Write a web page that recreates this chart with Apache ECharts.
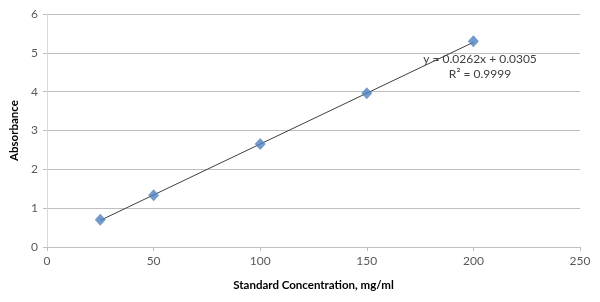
<!DOCTYPE html>
<html>
<head>
<meta charset="utf-8">
<script src="https://cdn.jsdelivr.net/npm/echarts@6/dist/echarts.min.js"></script>
<style>
  html, body { margin: 0; padding: 0; background: #fff; }
  #chart { width: 600px; height: 302px; }
</style>
</head>
<body>
<div id="chart"></div>
<script>
// standard curve readings
const concentrations = [25, 50, 100, 150, 200]
const absorbances = [0.70, 1.33, 2.65, 3.96, 5.30]

// linear trendline end points (y = 0.0262x + 0.0305)
const trendX = [25, 200]
const trendY = [0.686, 5.271]

const equationLines = ['y = 0.0262x + 0.0305', 'R² = 0.9999']

const labelFont = 'Lato, "Open Sans", sans-serif'

const chart = echarts.init(document.getElementById('chart'), null, { renderer: 'canvas' })

const option = {
  animation: false,
  backgroundColor: '#fff',
  grid: {
    left: 47,
    right: 20,
    top: 14,
    bottom: 55
  },
  xAxis: {
    type: 'value',
    min: 0,
    max: 250,
    interval: 50,
    name: 'Standard Concentration, mg/ml',
    nameLocation: 'middle',
    nameGap: 32,
    nameTextStyle: { color: '#000', fontWeight: 'bold', fontSize: 11.5, fontFamily: labelFont },
    axisLine: { lineStyle: { color: '#bfbfbf' } },
    axisTick: { show: true, length: 4, lineStyle: { color: '#bfbfbf' } },
    axisLabel: { color: '#595959', fontSize: 12, fontFamily: labelFont, margin: 8 },
    splitLine: { show: false }
  },
  yAxis: {
    type: 'value',
    min: 0,
    max: 6,
    interval: 1,
    name: 'Absorbance',
    nameLocation: 'middle',
    nameGap: 26,
    nameTextStyle: { color: '#000', fontWeight: 'bold', fontSize: 11.5, fontFamily: labelFont },
    axisLine: { show: true, lineStyle: { color: '#d9d9d9' } },
    axisTick: { show: true, length: 4, lineStyle: { color: '#bfbfbf' } },
    axisLabel: { color: '#595959', fontSize: 12, fontFamily: labelFont, margin: 9 },
    splitLine: { show: true, lineStyle: { color: '#bfbfbf', width: 1 } }
  },
  series: [
    {
      name: 'Linear',
      type: 'line',
      data: trendX.map((x, i) => [x, trendY[i]]),
      showSymbol: false,
      lineStyle: { color: '#404040', width: 1 },
      z: 2
    },
    {
      name: 'Absorbance',
      type: 'scatter',
      data: concentrations.map((x, i) => [x, absorbances[i]]),
      symbol: 'diamond',
      symbolSize: [11, 12],
      itemStyle: { color: '#4f81bd' },
      z: 3
    }
  ],
  graphic: [
    {
      type: 'text',
      x: 480,
      y: 52,
      style: {
        text: equationLines.join('\n'),
        fill: '#404040',
        font: '12px ' + labelFont,
        align: 'center',
        lineHeight: 15
      },
      z: 10
    }
  ]
}

chart.setOption(option)
</script>
</body>
</html>
